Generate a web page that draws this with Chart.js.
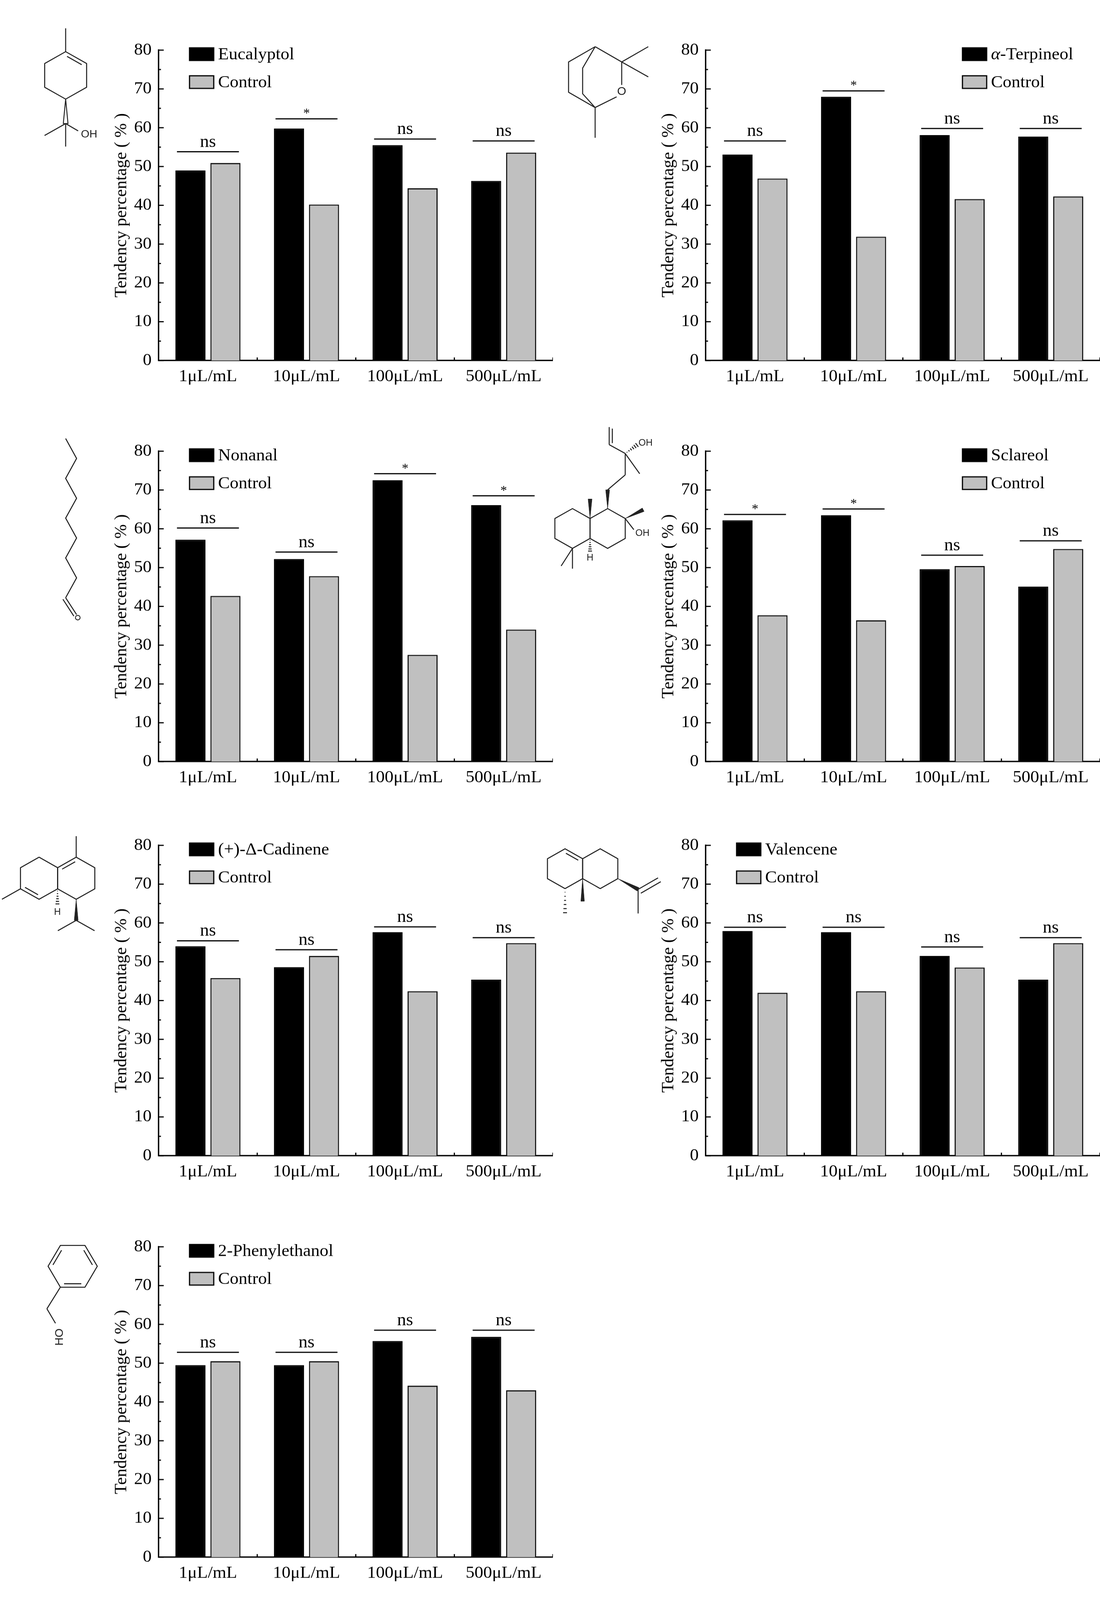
<!DOCTYPE html>
<html lang="en">
<head>
<meta charset="UTF-8">
<title>Tendency percentage</title>
<script src="https://cdn.jsdelivr.net/npm/chart.js@4"></script>
<style>
  html, body { margin: 0; background: #fff; overflow: hidden; }
  #page { position: absolute; left: 0; top: 0; width: 2815px; height: 4181px; transform-origin: 0 0; }
  .panel { position: absolute; width: 1415px; height: 1045px; }
  #molecules { position: absolute; left: 0; top: 0; }
</style>
</head>
<body>
<div id="page">
  <svg id="molecules" width="2815" height="4181" xmlns="http://www.w3.org/2000/svg"></svg>
  <div id="panels"></div>
</div>

<script>
// ---- data ----
const concentrations = ['1μL/mL', '10μL/mL', '100μL/mL', '500μL/mL'];

const eucalyptol        = [49.0, 59.8, 55.5, 46.3];
const eucalyptolControl = [50.9, 40.2, 44.4, 53.6];
const eucalyptolSig     = ['ns', '*', 'ns', 'ns'];
const eucalyptolSigAt   = [53.8, 62.3, 57.1, 56.6];

const terpineol        = [53.1, 68.0, 58.1, 57.7];
const terpineolControl = [46.9, 31.9, 41.6, 42.3];
const terpineolSig     = ['ns', '*', 'ns', 'ns'];
const terpineolSigAt   = [56.6, 69.5, 59.8, 59.8];

const nonanal        = [57.2, 52.2, 72.5, 66.1];
const nonanalControl = [42.7, 47.8, 27.5, 34.0];
const nonanalSig     = ['ns', 'ns', '*', '*'];
const nonanalSigAt   = [60.2, 54.0, 74.2, 68.5];

const sclareol        = [62.2, 63.5, 49.6, 45.1];
const sclareolControl = [37.7, 36.4, 50.4, 54.8];
const sclareolSig     = ['*', '*', 'ns', 'ns'];
const sclareolSigAt   = [63.7, 65.1, 53.2, 56.9];

const cadinene        = [54.0, 48.6, 57.6, 45.4];
const cadineneControl = [45.8, 51.5, 42.4, 54.8];
const cadineneSig     = ['ns', 'ns', 'ns', 'ns'];
const cadineneSigAt   = [55.4, 53.1, 59.0, 56.2];

const valencene        = [57.9, 57.6, 51.5, 45.4];
const valenceneControl = [42.0, 42.4, 48.5, 54.8];
const valenceneSig     = ['ns', 'ns', 'ns', 'ns'];
const valenceneSigAt   = [58.9, 58.9, 53.8, 56.2];

const phenylethanol        = [49.5, 49.5, 55.7, 56.8];
const phenylethanolControl = [50.5, 50.5, 44.2, 43.0];
const phenylethanolSig     = ['ns', 'ns', 'ns', 'ns'];
const phenylethanolSigAt   = [52.8, 52.8, 58.5, 58.5];

const panels = [
  { name: 'Eucalyptol',      treated: eucalyptol,    control: eucalyptolControl,    sig: eucalyptolSig,    sigAt: eucalyptolSigAt,    legend: 'left'  },
  { name: 'α-Terpineol',     treated: terpineol,     control: terpineolControl,     sig: terpineolSig,     sigAt: terpineolSigAt,     legend: 'right' },
  { name: 'Nonanal',         treated: nonanal,       control: nonanalControl,       sig: nonanalSig,       sigAt: nonanalSigAt,       legend: 'left'  },
  { name: 'Sclareol',        treated: sclareol,      control: sclareolControl,      sig: sclareolSig,      sigAt: sclareolSigAt,      legend: 'right' },
  { name: '(+)-Δ-Cadinene',  treated: cadinene,      control: cadineneControl,      sig: cadineneSig,      sigAt: cadineneSigAt,      legend: 'left'  },
  { name: 'Valencene',       treated: valencene,     control: valenceneControl,     sig: valenceneSig,     sigAt: valenceneSigAt,     legend: 'left'  },
  { name: '2-Phenylethanol', treated: phenylethanol, control: phenylethanolControl, sig: phenylethanolSig, sigAt: phenylethanolSigAt, legend: 'left'  }
];

// ---- layout ----
const SERIF = '"Liberation Serif", "Times New Roman", serif';
const colLeft = [0, 1400];
const rowTop = [0, 1048, 2078, 3127];
const W = 1415, H = 1045, PAD_TOP = 131, PLOT_H = 811, AXIS_W = 406;
const GRAY = '#c0c0c0';

// the figure is 4181px tall; squeeze it into the visible area if the viewport is shorter
const page = document.getElementById('page');
const fitY = Math.min(1, window.innerHeight / 4181);
page.style.transform = 'scale(1,' + fitY + ')';
document.body.style.height = window.innerHeight + 'px';

function line(ctx, x1, y1, x2, y2) {
  ctx.beginPath(); ctx.moveTo(x1, y1); ctx.lineTo(x2, y2); ctx.stroke();
}

// inward ticks, significance bars and the in-plot legend
const decor = {
  id: 'decor',
  afterDraw(chart, args, opts) {
    const { ctx, chartArea: a, scales: { x, y } } = chart;
    ctx.save();
    ctx.strokeStyle = '#000';
    ctx.fillStyle = '#000';
    ctx.lineWidth = 3;
    for (let v = 0; v <= 80; v += 5) {
      const py = y.getPixelForValue(v);
      line(ctx, a.left, py, a.left + (v % 10 === 0 ? 13 : 6), py);
    }
    for (let i = 0; i < concentrations.length; i++) {
      const px = x.getPixelForValue(i + 0.5);
      line(ctx, px, a.bottom, px, a.bottom - 8);
    }

    const m0 = chart.getDatasetMeta(0), m1 = chart.getDatasetMeta(1);
    ctx.textAlign = 'center';
    ctx.textBaseline = 'alphabetic';
    opts.sig.forEach((s, i) => {
      const b0 = m0.data[i], b1 = m1.data[i];
      const l = b0.x - b0.width / 2 + 4, r = b1.x + b1.width / 2 - 4;
      const py = y.getPixelForValue(opts.sigAt[i]);
      line(ctx, l, py, r, py);
      if (s === '*') {
        ctx.font = '34px ' + SERIF;
        ctx.fillText(s, (l + r) / 2, py - 4);
      } else {
        ctx.font = '46px ' + SERIF;
        ctx.fillText(s, (l + r) / 2, py - 13);
      }
    });

    const lx = opts.side === 'right' ? a.left + 657 : a.left + 79;
    chart.data.datasets.forEach((ds, k) => {
      const by = a.top - 6 + k * 73;
      ctx.fillStyle = ds.backgroundColor;
      ctx.fillRect(lx, by, 62, 33);
      ctx.lineWidth = 3;
      ctx.strokeStyle = '#000';
      ctx.strokeRect(lx, by, 62, 33);
      ctx.fillStyle = '#000';
      ctx.textAlign = 'left';
      ctx.textBaseline = 'middle';
      let tx = lx + 73;
      let label = ds.label;
      if (label.startsWith('α')) {
        ctx.font = 'italic 45px ' + SERIF;
        ctx.fillText('α', tx, by + 18);
        tx += ctx.measureText('α').width;
        label = label.slice(1);
      }
      ctx.font = '45px ' + SERIF;
      ctx.fillText(label, tx, by + 18);
    });
    ctx.restore();
  }
};

const host = document.getElementById('panels');
panels.forEach((p, idx) => {
  const div = document.createElement('div');
  div.className = 'panel';
  div.style.left = colLeft[idx % 2] + 'px';
  div.style.top = rowTop[Math.floor(idx / 2)] + 'px';
  const cv = document.createElement('canvas');
  cv.width = W; cv.height = H;
  cv.style.width = W + 'px'; cv.style.height = H + 'px';
  div.appendChild(cv);
  host.appendChild(div);

  new Chart(cv, {
    type: 'bar',
    data: {
      labels: concentrations,
      datasets: [
        { label: p.name, data: p.treated, backgroundColor: '#000', borderColor: '#000', borderWidth: 3 },
        { label: 'Control', data: p.control, backgroundColor: GRAY, borderColor: '#111', borderWidth: 3 }
      ]
    },
    options: {
      responsive: false,
      animation: false,
      devicePixelRatio: 1,
      layout: { padding: { top: PAD_TOP, left: 0, right: 0, bottom: 0 } },
      datasets: { bar: { categoryPercentage: 0.71, barPercentage: 0.86 } },
      plugins: {
        legend: { display: false },
        tooltip: { enabled: false },
        decor: { sig: p.sig, sigAt: p.sigAt, side: p.legend }
      },
      scales: {
        x: {
          grid: { display: false, drawTicks: false },
          border: { display: true, color: '#000', width: 3.5 },
          ticks: { color: '#000', font: { family: SERIF, size: 45 }, padding: 15 },
          afterFit: s => { s.height = H - PAD_TOP - PLOT_H; }
        },
        y: {
          min: 0, max: 80,
          grid: { display: false, drawTicks: false },
          border: { display: true, color: '#000', width: 3.5 },
          ticks: { stepSize: 10, color: '#000', font: { family: SERIF, size: 45 }, padding: 18 },
          title: {
            display: true, text: 'Tendency percentage ( % )', color: '#000',
            font: { family: SERIF, size: 45 }, padding: { top: 284, bottom: 0 }
          },
          afterFit: s => { s.width = AXIS_W; }
        }
      }
    },
    plugins: [decor]
  });
});

// ---- skeletal structures beside each panel ----
const svg = document.getElementById('molecules');
const NS = 'http://www.w3.org/2000/svg';
function el(tag, attrs) {
  const e = document.createElementNS(NS, tag);
  for (const k in attrs) e.setAttribute(k, attrs[k]);
  svg.appendChild(e);
  return e;
}
function poly(pts, closed) {
  el(closed ? 'polygon' : 'polyline', { points: pts.map(q => q.join(',')).join(' '),
    fill: 'none', stroke: '#222', 'stroke-width': 2.6, 'stroke-linejoin': 'round' });
}
function bond(a, b) { poly([a, b], false); }
function hex(cx, cy, r, flat) {
  const pts = [];
  for (let k = 0; k < 6; k++) {
    const ang = ((flat ? 0 : -90) + 60 * k) * Math.PI / 180;
    pts.push([cx + r * Math.cos(ang), cy + r * Math.sin(ang)]);
  }
  poly(pts, true);
  return pts;
}
function inner(a, b, c, d) {
  // line parallel to a-b, pushed toward point c
  const mx = (a[0] + b[0]) / 2, my = (a[1] + b[1]) / 2;
  const dx = c[0] - mx, dy = c[1] - my, len = Math.hypot(dx, dy);
  const ox = dx / len * (d || 9), oy = dy / len * (d || 9);
  const s = 0.15;
  bond([a[0] + (b[0] - a[0]) * s + ox, a[1] + (b[1] - a[1]) * s + oy],
       [b[0] - (b[0] - a[0]) * s + ox, b[1] - (b[1] - a[1]) * s + oy]);
}
function wedge(a, b, w, hashed) {
  const dx = b[0] - a[0], dy = b[1] - a[1], len = Math.hypot(dx, dy);
  const nx = -dy / len, ny = dx / len;
  if (hashed) {
    for (let t = 0.15; t <= 1.001; t += 0.17) {
      const px = a[0] + dx * t, py = a[1] + dy * t, hw = w / 2 * t;
      bond([px + nx * hw, py + ny * hw], [px - nx * hw, py - ny * hw]);
    }
  } else {
    el('polygon', { points: [a, [b[0] + nx * w / 2, b[1] + ny * w / 2], [b[0] - nx * w / 2, b[1] - ny * w / 2]]
      .map(q => q.join(',')).join(' '), fill: '#222', stroke: '#222', 'stroke-width': 1 });
  }
}
function label(x, y, t, size, rot) {
  const e = el('text', { x, y, 'font-family': '"Liberation Sans", Arial, sans-serif', 'font-size': size || 26,
    fill: '#222', 'dominant-baseline': 'middle', 'text-anchor': 'middle' });
  if (rot) e.setAttribute('transform', `rotate(${rot} ${x} ${y})`);
  e.textContent = t;
}

// panel 1
(function () {
  const h = hex(168, 197, 62);
  inner(h[0], h[1], [168, 197]);
  bond([168, 135], [168, 74]);
  el('polygon', { points: '168,259 162,323 174,323', fill: 'none', stroke: '#222', 'stroke-width': 2.4 });
  bond([168, 323], [114, 354]);
  bond([168, 323], [168, 383]);
  bond([168, 323], [200, 342]);
  label(228, 352, 'OH', 28);
})();

// panel 2
(function () {
  const A = [1523, 122], C2 = [1591, 162], C4 = [1523, 281];
  poly([A, [1455, 162], [1455, 241], C4], false);
  poly([A, [1491, 178], [1491, 245], C4], false);
  bond(A, C2);
  bond(C2, [1659, 122]);
  bond(C2, [1659, 201]);
  bond(C2, [1591, 222]);
  bond([1578, 253], C4);
  label(1591, 240, 'O', 30);
  bond(C4, [1523, 360]);
})();

// panel 3
(function () {
  const pts = [];
  for (let k = 0; k < 9; k++) pts.push([k % 2 ? 196 : 168, 1146 + k * 52]);
  poly(pts, false);
  const last = pts[pts.length - 1];
  bond(last, [196, 1606]);
  bond([last[0] - 7, last[1] + 4], [189, 1610]);
  el('circle', { cx: 199, cy: 1614, r: 6, fill: 'none', stroke: '#222', 'stroke-width': 2.2 });
})();

// panel 4
(function () {
  const b = hex(1555, 1381, 52);
  hex(1465, 1381, 52);
  wedge(b[0], [1555, 1280], 10);
  bond([1555, 1280], [1600, 1241]);
  bond([1600, 1241], [1600, 1185]);
  bond([1600, 1185], [1637, 1238]);
  wedge([1600, 1185], [1630, 1163], 12, true);
  label(1652, 1158, 'OH', 24);
  bond([1600, 1185], [1559, 1162]);
  bond([1559, 1162], [1559, 1116]);
  bond([1567, 1158], [1567, 1120]);
  wedge(b[1], [1646, 1332], 10);
  bond(b[1], [1622, 1384]);
  label(1644, 1394, 'OH', 24);
  wedge(b[5], [1510, 1304], 10);
  wedge(b[4], [1510, 1440], 10, true);
  label(1510, 1458, 'H', 24);
  bond([1465, 1433], [1436, 1479]);
  bond([1465, 1433], [1465, 1486]);
})();

// panel 5
(function () {
  const L = hex(100, 2295, 55), R = hex(195, 2295, 55);
  inner(R[0], R[5], [195, 2295]);
  inner(L[4], L[3], [100, 2295]);
  bond(R[0], [195, 2185]);
  bond(L[4], [5, 2350]);
  wedge(R[3], [195, 2405], 10);
  bond([195, 2405], [148, 2432]);
  bond([195, 2405], [242, 2432]);
  wedge(R[4], [147, 2362], 10, true);
  label(147, 2384, 'H', 24);
})();

// panel 6
(function () {
  const L = hex(1446, 2270, 52), R = hex(1536, 2270, 52);
  inner(L[0], L[1], [1446, 2270]);
  wedge(R[4], [1491, 2355], 9);
  wedge(L[3], [1446, 2385], 10, true);
  wedge(R[2], [1633, 2324], 10);
  bond([1633, 2324], [1684, 2294]);
  bond([1640, 2334], [1691, 2304]);
  bond([1633, 2324], [1633, 2387]);
})();

// panel 7
(function () {
  const h = hex(186, 3309, 63, true);
  const c = [186, 3309];
  inner(h[3], h[4], c);
  inner(h[5], h[0], c);
  inner(h[1], h[2], c);
  bond(h[2], [120, 3420]);
  bond([120, 3420], [142, 3458]);
  label(153, 3494, 'HO', 30, -90);
})();
</script>
</body>
</html>
